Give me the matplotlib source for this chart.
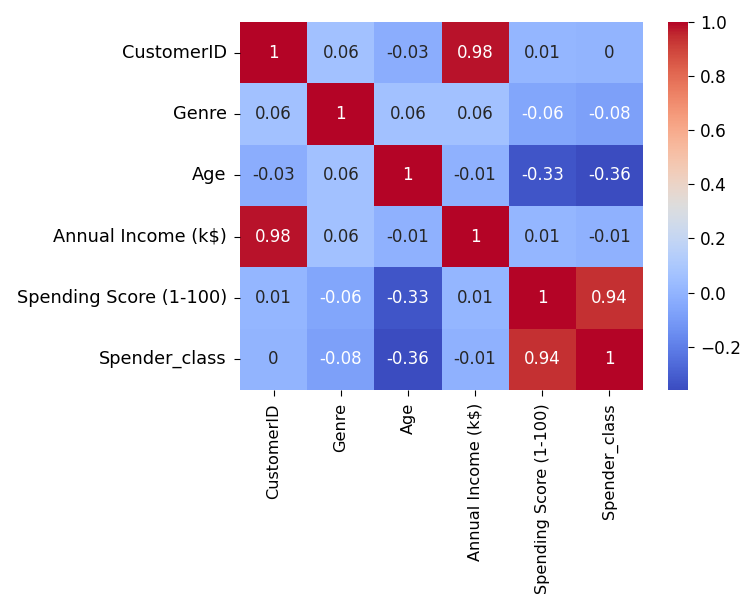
import numpy as np
import matplotlib
matplotlib.use("Agg")
import matplotlib.pyplot as plt
import seaborn as sns

labels = ["CustomerID", "Genre", "Age", "Annual Income (k$)",
          "Spending Score (1-100)", "Spender_class"]

row_customer_id = [1, 0.06, -0.03, 0.98, 0.01, 0]
row_genre = [0.06, 1, 0.06, 0.06, -0.06, -0.08]
row_age = [-0.03, 0.06, 1, -0.01, -0.33, -0.36]
row_income = [0.98, 0.06, -0.01, 1, 0.01, -0.01]
row_spending = [0.01, -0.06, -0.33, 0.01, 1, 0.94]
row_spender_class = [0, -0.08, -0.36, -0.01, 0.94, 1]

corr = np.array([row_customer_id, row_genre, row_age,
                 row_income, row_spending, row_spender_class])

fig = plt.figure(figsize=(7.41, 5.99), dpi=100)
W, H = 741, 599
ax = fig.add_axes([240 / W, (H - 390) / H, 403 / W, 368 / H])
cax = fig.add_axes([668 / W, (H - 390) / H, 20 / W, 368 / H])

sns.heatmap(corr, annot=True, fmt=".2g", cmap="coolwarm",
            xticklabels=labels, yticklabels=labels,
            ax=ax, cbar_ax=cax, annot_kws={"size": 12})
ax.tick_params(axis="y", labelsize=12.8, length=4.5, pad=5)
ax.tick_params(axis="x", labelsize=11.6, length=4.5, pad=5)
cax.tick_params(labelsize=12.2, length=4.5, pad=4)
plt.setp(ax.get_xticklabels(), rotation=90)
plt.setp(ax.get_yticklabels(), rotation=0)

fig.savefig("out.png", dpi=100)
